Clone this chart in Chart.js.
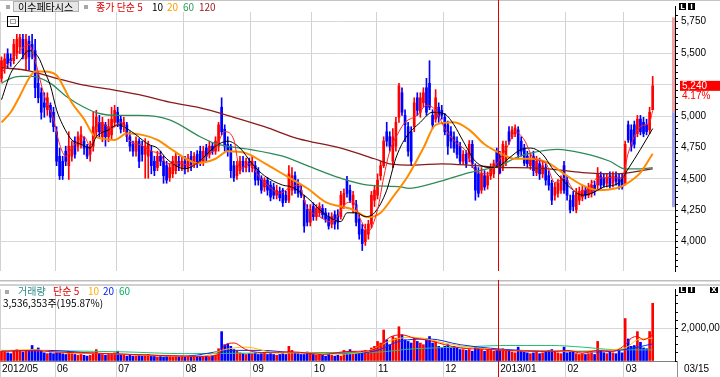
<!DOCTYPE html>
<html><head><meta charset="utf-8">
<script src="https://cdn.jsdelivr.net/npm/chart.js@4.4.0/dist/chart.umd.min.js"></script>
<style>
html,body{margin:0;padding:0;background:#fff;overflow:hidden}
#wrap{position:relative;width:720px;height:377px;background:#fff}
canvas{position:absolute;left:0}
#c1{top:0}
#c2{top:280px}
</style></head><body>
<div id="wrap"><canvas id="c1" width="720" height="280"></canvas><canvas id="c2" width="720" height="97"></canvas></div>
<script>
// ---------- data ----------
const monthLabels = ['2012/05','06','07','08','09','10','11','12','2013/01','02','03'];
const monthDays   = [18,20,22,22,20,21,22,18,22,19,10];
const lastDateLabel = '03/15';
const priceTicks = [4000,4250,4500,4750,5000,5250,5500,5750];
const volTicks = [2000000];
const limitUp = 5785, limitDown = 4275;

const open = [
5300,5380,5495,5455,5440,5495,5550,5610,5455,5595,5570,5520,5260,5185,5105,5050,5085,5030,
4875,4680,4640,4720,4605,4680,4800,4760,4775,4800,4760,4695,4760,4875,4950,4835,4930,4835,4850,4950,
5030,4975,4915,4930,4835,4775,4720,4800,4760,4695,4680,4720,4640,4590,4680,4640,4605,4510,4540,4565,4640,4590,
4640,4590,4680,4620,4695,4720,4640,4745,4695,4760,4720,4760,5070,4895,4775,4760,4605,4525,4565,4640,4590,4635,
4590,4605,4565,4505,4435,4490,4450,4435,4370,4400,4410,4370,4330,4410,4525,4465,4410,4330,4255,4155,
4280,4200,4230,4265,4230,4200,4140,4215,4215,4200,4295,4490,4410,4295,4295,4180,4100,4000,4060,4140,4330,
4370,4525,4605,4875,4835,4640,4760,4990,5185,5005,4915,4875,4915,5145,5030,5105,5225,5260,5005,4975,5070,5045,
4990,4930,4875,4835,4800,4760,4640,4695,4665,4775,4590,4540,4410,4525,4450,4525,4540,4720,
4680,4590,4640,4875,4835,4860,4890,4800,4745,4680,4605,4680,4550,4620,4540,4590,4525,4465,4370,4385,4410,4605,
4490,4330,4370,4255,4330,4355,4410,4370,4385,4450,4450,4525,4510,4465,4525,4465,4525,4510,4510,
4465,4930,4890,4930,4860,4975,4950,4930,4890,5050];
const high = [
5470,5495,5535,5495,5610,5650,5650,5650,5650,5635,5650,5610,5340,5225,5185,5185,5105,5070,
4915,4745,4680,4760,4875,4800,4835,4875,4915,4835,4775,4800,5030,5045,5005,4990,4950,4975,5070,5085,
5070,5005,4990,4950,4875,4800,4835,4820,4800,4820,4800,4760,4680,4720,4720,4680,4640,4620,4680,4705,4680,4680,
4680,4695,4720,4710,4725,4760,4760,4775,4800,4790,4835,4950,5145,4930,4835,4775,4640,4640,4680,4680,4665,4665,
4680,4640,4590,4525,4510,4510,4480,4465,4450,4435,4425,4400,4605,4590,4555,4495,4450,4370,4295,4295,
4310,4295,4310,4295,4265,4230,4230,4245,4255,4400,4420,4520,4450,4400,4330,4215,4140,4140,4170,4400,4450,
4540,4640,4835,4950,4875,4900,4990,5260,5225,5050,4950,4915,5145,5185,5185,5225,5300,5440,5050,5210,5105,5085,
5020,4960,4915,4875,4835,4790,4725,4725,4805,4805,4620,4590,4590,4565,4555,4620,4650,4745,
4720,4800,4800,4915,4915,4930,4915,4835,4775,4720,4695,4720,4680,4665,4635,4620,4565,4490,4465,4495,4525,4640,
4525,4370,4400,4425,4435,4450,4435,4465,4490,4480,4590,4555,4540,4540,4555,4555,4555,4540,4540,
4800,4960,4930,4960,5005,5005,4990,4975,5070,5315];
const low = [
5270,5340,5380,5395,5415,5455,5495,5455,5365,5365,5455,5145,5105,4975,4990,5005,4950,4875,
4605,4495,4495,4605,4495,4640,4665,4720,4745,4695,4660,4640,4720,4835,4835,4795,4760,4795,4820,4915,
4915,4865,4875,4795,4720,4680,4680,4590,4640,4505,4505,4540,4525,4565,4605,4465,4465,4480,4510,4540,4565,4565,
4540,4555,4565,4590,4590,4605,4605,4640,4665,4695,4695,4720,4850,4720,4680,4510,4480,4495,4540,4555,4555,4555,
4555,4450,4450,4385,4400,4370,4325,4340,4340,4325,4280,4310,4310,4370,4385,4355,4350,4075,4125,4125,
4170,4170,4200,4185,4155,4100,4110,4100,4100,4180,4265,4355,4310,4230,4125,4020,3930,3970,4020,4110,4280,
4340,4490,4590,4760,4720,4590,4720,4950,5005,4795,4680,4605,4875,5005,4990,5070,5005,5050,4900,4950,4950,4975,
4850,4695,4745,4710,4665,4620,4620,4590,4635,4590,4330,4355,4385,4410,4418,4495,4510,4590,
4540,4565,4605,4775,4820,4835,4665,4680,4605,4590,4575,4525,4525,4495,4510,4450,4410,4295,4330,4355,4385,4385,
4330,4230,4245,4230,4295,4325,4340,4350,4355,4370,4418,4418,4435,4435,4425,4435,4450,4418,4418,
4450,4790,4720,4745,4835,4850,4835,4850,4860,5050];
const close = [
5440,5455,5415,5440,5570,5610,5625,5495,5610,5470,5520,5225,5145,5030,5070,5145,4990,4915,
4640,4525,4525,4640,4760,4760,4695,4835,4850,4745,4680,4760,4915,4990,4875,4950,4835,4915,4975,5045,
4950,4895,4950,4835,4760,4720,4800,4640,4695,4760,4775,4605,4565,4680,4640,4525,4490,4590,4640,4680,4605,4640,
4590,4665,4605,4680,4620,4640,4720,4680,4760,4720,4800,4930,4875,4760,4720,4565,4510,4605,4640,4590,4640,4605,
4640,4490,4490,4410,4490,4410,4355,4370,4410,4350,4310,4330,4540,4525,4410,4385,4370,4125,4155,4255,
4200,4265,4280,4215,4180,4125,4200,4140,4155,4370,4385,4385,4330,4370,4155,4060,3985,4090,4140,4370,4410,
4490,4605,4800,4800,4760,4835,4950,5240,5030,4930,4720,4640,5105,5045,5145,5185,5030,5070,4930,5145,4990,5005,
4875,4760,4800,4745,4695,4640,4695,4620,4775,4620,4410,4385,4540,4435,4525,4590,4620,4605,
4550,4775,4760,4800,4890,4905,4695,4720,4625,4620,4660,4565,4640,4540,4605,4490,4450,4330,4435,4465,4490,4410,
4370,4255,4280,4385,4400,4410,4370,4425,4450,4400,4540,4450,4450,4510,4450,4525,4480,4450,4435,
4775,4810,4760,4775,4975,4875,4860,4875,5030,5240];
const volume = [
600e3,550e3,500e3,450e3,650e3,700e3,600e3,550e3,650e3,600e3,950e3,700e3,800e3,600e3,500e3,450e3,500e3,450e3,
550e3,500e3,450e3,400e3,600e3,450e3,400e3,350e3,400e3,350e3,300e3,350e3,500e3,700e3,450e3,400e3,350e3,400e3,450e3,500e3,
600e3,400e3,350e3,300e3,350e3,300e3,300e3,350e3,300e3,350e3,400e3,300e3,300e3,250e3,300e3,250e3,300e3,300e3,250e3,300e3,250e3,300e3,
250e3,250e3,300e3,250e3,250e3,300e3,250e3,300e3,250e3,300e3,350e3,750e3,1800e3,1000e3,1050e3,900e3,700e3,600e3,500e3,450e3,400e3,450e3,
450e3,500e3,400e3,450e3,500e3,400e3,450e3,400e3,350e3,400e3,450e3,400e3,900e3,650e3,500e3,450e3,400e3,400e3,550e3,500e3,
400e3,350e3,400e3,350e3,300e3,400e3,350e3,300e3,350e3,300e3,650e3,550e3,700e3,500e3,450e3,500e3,600e3,650e3,550e3,800e3,900e3,
1200e3,1100e3,1900e3,1300e3,1000e3,1500e3,1400e3,2100e3,1600e3,1300e3,1200e3,1100e3,1400e3,1200e3,1100e3,1000e3,1300e3,1500e3,1100e3,1200e3,900e3,800e3,
900e3,1000e3,800e3,900e3,800e3,700e3,700e3,650e3,700e3,600e3,900e3,800e3,700e3,600e3,700e3,650e3,600e3,700e3,
700e3,750e3,600e3,650e3,550e3,500e3,850e3,600e3,550e3,500e3,450e3,500e3,550e3,450e3,500e3,600e3,650e3,700e3,550e3,500e3,450e3,850e3,
500e3,550e3,600e3,450e3,400e3,450e3,400e3,450e3,500e3,400e3,1200e3,600e3,500e3,450e3,550e3,500e3,450e3,600e3,500e3,
2600e3,1350e3,900e3,950e3,1800e3,1150e3,800e3,750e3,1805470,3536353];

// moving-average lines: [day index, value]
const ma5 = [[0,5340],[3,5440],[6,5520],[9,5570],[11,5440],[14,5160],[17,4975],[19,4775],[21,4680],[23,4745],[27,4835],[29,4760],[32,4950],[36,4900],[39,4950],[42,4800],[45,4775],[49,4720],[52,4695],[54,4620],[58,4625],[62,4605],[67,4680],[70,4745],[73,4875],[76,4810],[78,4580],[81,4620],[84,4525],[87,4450],[91,4385],[94,4425],[97,4450],[100,4270],[104,4200],[108,4155],[113,4310],[115,4317],[117,4200],[120,4085],[123,4255],[125,4510],[127,4720],[130,4875],[132,4950],[136,5005],[139,5085],[142,5045],[145,4900],[149,4780],[152,4720],[155,4565],[159,4540],[162,4620],[166,4780],[168,4875],[171,4810],[174,4665],[178,4625],[181,4470],[184,4505],[188,4395],[191,4410],[195,4505],[200,4510],[203,4505],[205,4705],[209,4915],[212,4950],[213,5045]];
const ma10 = [[0,5130],[3,5340],[6,5440],[9,5520],[12,5470],[14,5360],[16,5240],[18,5050],[20,4930],[23,4810],[26,4775],[29,4745],[31,4835],[35,4890],[38,4930],[41,4900],[44,4850],[48,4775],[51,4745],[54,4660],[60,4580],[64,4625],[70,4760],[74,4800],[78,4745],[82,4620],[86,4525],[92,4450],[95,4435],[100,4350],[106,4215],[111,4160],[113,4230],[116,4230],[119,4200],[122,4230],[126,4410],[129,4665],[132,4820],[137,4950],[141,5030],[145,5015],[148,4930],[151,4800],[155,4640],[160,4590],[163,4605],[166,4665],[170,4735],[173,4745],[177,4695],[180,4590],[183,4505],[187,4410],[190,4370],[193,4385],[197,4435],[202,4470],[205,4580],[209,4735],[213,4900]];
const ma20 = [[0,4950],[3,5030],[6,5160],[9,5300],[11,5355],[14,5355],[18,5325],[20,5245],[23,5105],[27,4975],[30,4850],[33,4820],[37,4810],[41,4860],[46,4850],[51,4810],[55,4745],[60,4665],[64,4625],[70,4660],[74,4720],[80,4705],[86,4625],[93,4525],[100,4425],[106,4315],[111,4280],[115,4255],[120,4195],[124,4230],[128,4355],[133,4525],[138,4745],[142,4930],[148,4950],[153,4890],[158,4775],[163,4705],[168,4660],[173,4660],[179,4625],[184,4540],[190,4450],[195,4410],[201,4425],[204,4455],[209,4550],[213,4700]];
const ma60 = [[0,5260],[3,5300],[6,5315],[10,5315],[16,5260],[21,5160],[27,5070],[32,5020],[38,5005],[45,5005],[55,4970],[65,4835],[70,4780],[78,4745],[81,4735],[92,4680],[100,4605],[111,4505],[120,4450],[131,4435],[133,4425],[142,4470],[153,4550],[163,4605],[168,4665],[173,4705],[182,4735],[190,4705],[199,4640],[204,4580],[209,4580],[213,4590]];
const ma120 = [[0,5385],[9,5360],[18,5300],[27,5245],[36,5210],[45,5170],[55,5110],[64,5070],[76,4990],[86,4915],[97,4820],[111,4745],[122,4660],[127,4620],[135,4610],[144,4620],[155,4605],[164,4590],[168,4590],[179,4580],[190,4550],[201,4540],[213,4580]];
const vma5 = [[0,600e3],[10,650e3],[18,550e3],[30,480e3],[40,420e3],[55,320e3],[65,280e3],[71,400e3],[73,950e3],[76,1100e3],[80,700e3],[85,520e3],[95,560e3],[105,400e3],[113,580e3],[120,620e3],[124,950e3],[127,1450e3],[131,1600e3],[135,1400e3],[140,1250e3],[145,1000e3],[150,800e3],[158,720e3],[165,650e3],[172,600e3],[180,570e3],[185,650e3],[190,480e3],[195,650e3],[200,600e3],[204,1000e3],[206,1400e3],[208,1500e3],[210,1300e3],[213,1600e3]];
const vma10 = [[0,620e3],[10,700e3],[20,500e3],[35,450e3],[50,320e3],[65,280e3],[73,700e3],[80,850e3],[90,500e3],[100,500e3],[110,420e3],[120,620e3],[128,1300e3],[135,1450e3],[145,1100e3],[155,800e3],[165,650e3],[180,600e3],[195,650e3],[204,800e3],[208,1300e3],[213,1400e3]];
const vma20 = [[0,600e3],[15,650e3],[30,480e3],[45,380e3],[60,300e3],[75,650e3],[85,650e3],[95,520e3],[110,450e3],[122,600e3],[130,1200e3],[140,1350e3],[150,1000e3],[160,780e3],[170,650e3],[185,600e3],[195,550e3],[204,700e3],[213,1050e3]];
const vma60 = [[0,650e3],[20,620e3],[40,560e3],[60,450e3],[80,480e3],[100,520e3],[120,520e3],[135,750e3],[150,850e3],[165,950e3],[180,950e3],[190,850e3],[200,700e3],[213,680e3]];

// ---------- build ----------
Chart.defaults.font.family = 'Liberation Sans';
Chart.defaults.font.size = 10;
Chart.defaults.color = '#000';
const N = close.length;
const X_MIN = -0.5, X_MAX = 220.3;
const Y_MIN = 3767, Y_MAX = 5827.5;
const VOL_MAX = 4410000;
const monthStarts = []; { let acc = 0; for (const d of monthDays) { monthStarts.push(acc - 0.5); acc += d; } }
const cursorIdx = monthStarts[8];
const UP = '#ff0000', DOWN = '#0000ff';
const isUp = i => close[i] >= open[i];
const colorOf = ctx => isUp(ctx.dataIndex) ? UP : DOWN;
const idx = close.map((_, i) => i);
const pts = arr => arr.map(([i, v]) => ({x: i, y: v}));
const lineDs = (arr, color, w) => ({type:'line', data: pts(arr), borderColor: color, borderWidth: w, pointRadius: 0, cubicInterpolationMode: 'monotone', fill: false, order: 0});
const lastClose = close[N - 1];

const xBase = {
  type: 'linear', min: X_MIN, max: X_MAX, offset: false,
  afterBuildTicks: s => { s.ticks = monthStarts.map(v => ({value: v})); }
};

const deco1 = {
  id: 'deco1',
  afterDraw(chart) {
    const {ctx, chartArea: a, scales: {x, y}} = chart;
    ctx.save();
    ctx.fillStyle = '#c4c4c4'; ctx.fillRect(0, 0, 720, 1);
    // daily limit band beside the axis
    const prev = close[N - 2], last = lastClose;
    const yu = y.getPixelForValue(limitUp), yp = y.getPixelForValue(prev), yd = y.getPixelForValue(limitDown);
    ctx.fillStyle = '#f2a2a2'; ctx.fillRect(a.right - 3, yu, 3, yp - yu);
    ctx.fillStyle = '#a2a2ee'; ctx.fillRect(a.right - 3, yp, 3, yd - yp);
    // axis line reaching up to the icons
    ctx.strokeStyle = '#000'; ctx.lineWidth = 1;
    ctx.beginPath(); ctx.moveTo(a.right + 0.5, 6); ctx.lineTo(a.right + 0.5, a.top); ctx.stroke();
    // cursor line
    const xr = Math.round(x.getPixelForValue(cursorIdx)) + 0.5;
    ctx.strokeStyle = '#e00000';
    ctx.beginPath(); ctx.moveTo(xr, 0); ctx.lineTo(xr, a.bottom); ctx.stroke();
    // last price tag
    const yl = y.getPixelForValue(last);
    ctx.fillStyle = '#ff0000'; ctx.fillRect(a.right + 5, yl - 5, 45, 10);
    ctx.font = '10px "Liberation Sans"'; ctx.textBaseline = 'middle'; ctx.textAlign = 'left';
    ctx.fillStyle = '#ffffff'; ctx.fillText(last.toLocaleString('en-US'), a.right + 7, yl);
    ctx.fillStyle = '#ff0000'; ctx.fillText(((last / prev - 1) * 100).toFixed(2) + '%', a.right + 7, yl + 10);
    // icons
    ctx.fillStyle = '#000'; ctx.fillRect(679, 3, 7, 7); ctx.fillRect(688, 3, 7, 7);
    ctx.fillStyle = '#fff'; ctx.font = 'bold 7px "DejaVu Sans"'; ctx.textAlign = 'center';
    ctx.fillText('L', 682.5, 6.8); ctx.fillText('I', 691.5, 6.8);
    // legend
    ctx.textAlign = 'left';
    ctx.fillStyle = '#a8a8a8'; ctx.fillRect(6, 5, 4, 4); ctx.fillRect(84, 5, 4, 4);
    ctx.fillStyle = '#e6e6e6'; ctx.fillRect(13, 1, 66, 11);
    ctx.strokeStyle = '#b0b0b0'; ctx.strokeRect(13.5, 1.5, 65, 10);
    ctx.font = '10px "Noto Sans CJK KR"';
    ctx.fillStyle = '#000'; ctx.fillText('이수페타시스', 18, 7);
    const leg = [['종가 단순 5', '#e00000', 96], ['10', '#000000', 152], ['20', '#ff9900', 167], ['60', '#2e9a5e', 183], ['120', '#a02020', 199]];
    for (const [t, c, px] of leg) { ctx.fillStyle = c; ctx.fillText(t, px, 7); }
    ctx.strokeStyle = '#000'; ctx.strokeRect(7.5, 16.5, 11, 10);
    ctx.strokeStyle = '#a0a0a0'; ctx.strokeRect(10.5, 19.5, 5, 4);
    ctx.restore();
  }
};

new Chart(document.getElementById('c1'), {
  type: 'bar',
  data: {
    datasets: [
      lineDs(ma5, '#ff2020', 1),
      lineDs(ma10, '#000000', 1),
      lineDs(ma20, '#ff8c00', 2),
      lineDs(ma60, '#2e8b57', 1.3),
      lineDs(ma120, '#8b1a1a', 1.3),
      {type: 'bar', data: idx.map(i => ({x: i, y: [open[i], close[i]]})), backgroundColor: colorOf, barThickness: 2, grouped: false, order: 1},
      {type: 'bar', data: idx.map(i => ({x: i, y: [low[i], high[i]]})), backgroundColor: colorOf, barThickness: 1, grouped: false, order: 2}
    ]
  },
  options: {
    responsive: false, animation: false, devicePixelRatio: 1, events: [],
    layout: {padding: {top: 12, bottom: 2, left: 0, right: 0}},
    plugins: {legend: {display: false}, tooltip: {enabled: false}},
    scales: {
      x: Object.assign({}, xBase, {
        ticks: {display: false},
        grid: {color: '#d2d2d2', drawTicks: false, offset: false},
        border: {display: false},
        afterFit: s => { s.height = 0; }
      }),
      y: {
        type: 'linear', position: 'right', min: Y_MIN, max: Y_MAX,
        afterBuildTicks: s => { const t = []; for (let v = 3800; v <= 5800; v += 50) t.push({value: v}); s.ticks = t; },
        ticks: {autoSkip: false, padding: 3, color: '#000', font: {size: 10},
          callback: v => (priceTicks.includes(v) && Math.abs(v - lastClose) > 120) ? v.toLocaleString('en-US') : ''},
        grid: {color: c => (c.tick && priceTicks.includes(c.tick.value)) ? '#d8d8d8' : 'rgba(0,0,0,0)', tickColor: '#000', tickLength: 3},
        border: {display: true, color: '#000'},
        afterFit: s => { s.width = 45; }
      }
    }
  },
  plugins: [deco1]
});

const deco2 = {
  id: 'deco2',
  afterDraw(chart) {
    const {ctx, chartArea: a, scales: {x}} = chart;
    ctx.save();
    ctx.fillStyle = '#bdbdbd'; ctx.fillRect(0, 0, 720, 1.5);
    ctx.fillStyle = '#d0d0d0'; ctx.fillRect(0, 4, 720, 2);
    const xr = Math.round(x.getPixelForValue(cursorIdx)) + 0.5;
    ctx.strokeStyle = '#e00000'; ctx.lineWidth = 1;
    ctx.beginPath(); ctx.moveTo(xr, 0); ctx.lineTo(xr, 97); ctx.stroke();
    ctx.strokeStyle = '#909090';
    ctx.beginPath(); ctx.moveTo(a.right + 2.5, a.bottom); ctx.lineTo(a.right + 2.5, 97); ctx.stroke();
    ctx.font = '10px "Liberation Sans"'; ctx.textBaseline = 'middle'; ctx.textAlign = 'left';
    ctx.fillStyle = '#000'; ctx.fillText(lastDateLabel, a.right + 9, a.bottom + 8);
    // legend
    ctx.fillStyle = '#a8a8a8'; ctx.fillRect(5, 10, 4, 4);
    ctx.font = '10px "Noto Sans CJK KR"';
    const leg = [['거래량', '#2a8a8a', 18], ['단순 5', '#e00000', 53], ['10', '#ffb000', 88], ['20', '#0020ff', 103], ['60', '#00b060', 119]];
    for (const [t, c, px] of leg) { ctx.fillStyle = c; ctx.fillText(t, px, 11.5); }
    const lastVol = volume[N - 1], prevVol = volume[N - 2];
    ctx.fillStyle = '#000';
    ctx.fillText(lastVol.toLocaleString('en-US') + '주(' + (lastVol / prevVol * 100).toFixed(2) + '%)', 3, 23);
    // icons
    ctx.fillStyle = '#000'; ctx.fillRect(679, 7, 7, 6); ctx.fillRect(688, 7, 7, 6); ctx.fillRect(710, 7, 8, 6);
    ctx.fillStyle = '#fff'; ctx.font = 'bold 7px "DejaVu Sans"'; ctx.textAlign = 'center';
    ctx.fillText('L', 682.5, 10.3); ctx.fillText('I', 691.5, 10.3); ctx.fillText('X', 714, 10.3);
    ctx.restore();
  }
};

new Chart(document.getElementById('c2'), {
  type: 'bar',
  data: {
    datasets: [
      lineDs(vma5, '#ff0000', 1),
      lineDs(vma10, '#ffc000', 1),
      lineDs(vma20, '#0030ff', 1),
      lineDs(vma60, '#20c070', 1),
      {type: 'bar', data: idx.map(i => ({x: i, y: volume[i]})), backgroundColor: colorOf, barThickness: 2, grouped: false, order: 1}
    ]
  },
  options: {
    responsive: false, animation: false, devicePixelRatio: 1, events: [],
    layout: {padding: {top: 6, bottom: 0, left: 0, right: 0}},
    plugins: {legend: {display: false}, tooltip: {enabled: false}},
    scales: {
      x: Object.assign({}, xBase, {
        ticks: {display: true, autoSkip: false, maxRotation: 0, minRotation: 0, align: 'start', labelOffset: 2, padding: -14, color: '#000', font: {size: 10},
          callback: (v, i) => monthLabels[i]},
        grid: {color: '#d2d2d2', tickColor: '#d2d2d2', tickLength: 16, offset: false},
        border: {display: true, color: '#808080'},
        afterFit: s => { s.height = 16; }
      }),
      y: {
        type: 'linear', position: 'right', min: 0, max: VOL_MAX,
        afterBuildTicks: s => { const t = []; for (let v = 0; v <= 4000000; v += 500000) t.push({value: v}); s.ticks = t; },
        ticks: {autoSkip: false, padding: 3, color: '#000', font: {size: 10},
          callback: v => volTicks.includes(v) ? v.toLocaleString('en-US') : ''},
        grid: {color: c => (c.tick && volTicks.includes(c.tick.value)) ? '#d8d8d8' : 'rgba(0,0,0,0)', tickColor: '#000', tickLength: 3},
        border: {display: true, color: '#000'},
        afterFit: s => { s.width = 45; }
      }
    }
  },
  plugins: [deco2]
});
</script>
</body></html>
